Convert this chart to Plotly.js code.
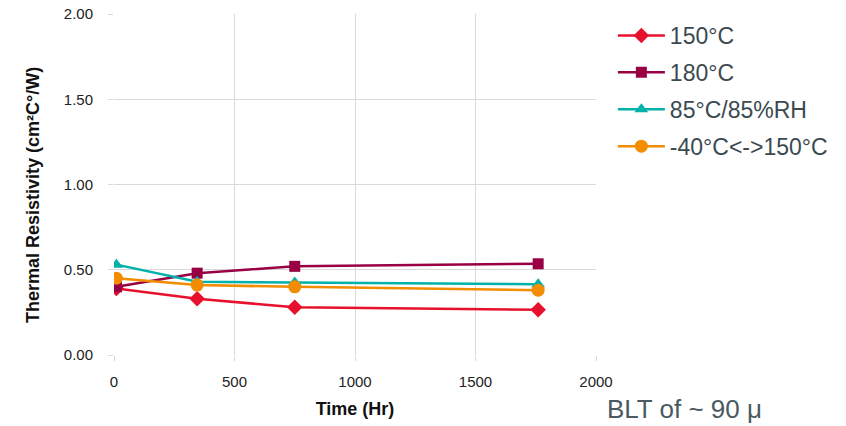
<!DOCTYPE html>
<html><head><meta charset="utf-8">
<script src="https://cdn.plot.ly/plotly-3.0.1.min.js"></script>
<style>html,body{margin:0;padding:0;background:#fff}#c{width:846px;height:426px}</style>
</head><body><div id="c"></div>
<script>
const times = [10, 345, 750, 1760];
const seriesNames = ["150°C", "180°C", "85°C/85%RH", "-40°C<->150°C"];
const s150 = [0.39, 0.33, 0.28, 0.265];
const s180 = [0.40, 0.48, 0.52, 0.535];
const s8585 = [0.53, 0.43, 0.425, 0.415];
const sCycle = [0.45, 0.41, 0.40, 0.38];
const xTicks = [0, 500, 1000, 1500, 2000];
const yTicks = [0, 0.5, 1, 1.5, 2];
const yTitle = "Thermal Resistivity (cm²C°/W)";
const xTitle = "Time (Hr)";
const note = "BLT of ~ 90 μ";

const colors = ["#e8112d", "#990044", "#00b2a9", "#f28c00"];
const symbols = ["diamond", "square", "triangle-up", "circle"];
const sizes = [12, 11, 12, 13];
const data = [s150, s180, s8585, sCycle].map((ys, i) => ({
  x: times, y: ys, name: seriesNames[i], type: "scatter", mode: "lines+markers",
  legendgroup: "g" + i,
  line: {color: colors[i], width: 2.5},
  marker: {color: colors[i], symbol: symbols[i], size: sizes[i]}
}));

const layout = {
  width: 846, height: 426,
  margin: {l: 114, r: 250, t: 14, b: 71},
  paper_bgcolor: "#fff", plot_bgcolor: "#fff",
  font: {family: "'Liberation Sans', Arial, sans-serif", color: "#222"},
  xaxis: {
    range: [0, 2000], tickvals: xTicks, ticktext: xTicks.map(String),
    showgrid: true, gridcolor: "#d9d9d9", gridwidth: 1, zeroline: false,
    ticks: "outside", ticklen: 5, tickcolor: "#d9d9d9", ticklabelstandoff: 8,
    tickfont: {size: 15, color: "#222"},
    showline: false,
    title: {text: "<b>" + xTitle + "</b>", font: {size: 18, color: "#111"}, standoff: 13}
  },
  yaxis: {
    range: [0, 2], tickvals: yTicks, ticktext: yTicks.map(v => v.toFixed(2)),
    showgrid: true, gridcolor: "#d9d9d9", gridwidth: 1, zeroline: false,
    ticks: "outside", ticklen: 5, tickcolor: "#d9d9d9", ticklabelstandoff: 12,
    tickfont: {size: 15, color: "#222"},
    showline: false
  },
  showlegend: true,
  legend: {x: 1.035, y: 1.0, xanchor: "left", yanchor: "top",
    font: {size: 23, color: "#3a4a50"}, bgcolor: "rgba(0,0,0,0)", tracegroupgap: 4, itemwidth: 47},
  annotations: [{
    text: "<b>" + yTitle + "</b>", xref: "paper", yref: "paper", x: -0.168, y: 0.469,
    xanchor: "center", yanchor: "middle", textangle: -90, showarrow: false,
    font: {size: 18, color: "#111"}
  }, {
    text: note, xref: "paper", yref: "paper", x: 1.183, y: -0.158,
    xanchor: "center", yanchor: "middle", showarrow: false,
    font: {size: 26, color: "#4a5a60"}
  }]
};
Plotly.newPlot("c", data, layout, {displayModeBar: false, staticPlot: true});
</script></body></html>
